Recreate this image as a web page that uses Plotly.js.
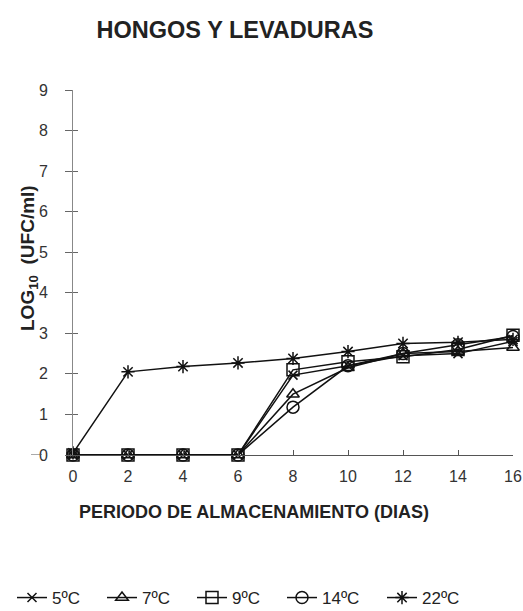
<!DOCTYPE html>
<html>
<head>
<meta charset="utf-8">
<script src="https://cdn.plot.ly/plotly-3.0.1.min.js"></script>
<style>body{margin:0;background:#fff}#chart{width:523px;height:611px}</style>
</head>
<body>
<div id="chart"></div>
<script>
const days = [0, 2, 4, 6, 8, 10, 12, 14, 16];
const seriesNames = ["5ºC", "7ºC", "9ºC", "14ºC", "22ºC"];
const t5 = [0, 0, 0, 0, 1.97, 2.2, 2.45, 2.5, 2.8];
const t7 = [0, 0, 0, 0, 1.5, 2.15, 2.5, 2.55, 2.65];
const t9 = [0, 0, 0, 0, 2.1, 2.3, 2.42, 2.6, 2.95];
const t14 = [0, 0, 0, 0, 1.18, 2.2, 2.5, 2.72, 2.92];
const t22 = [0.05, 2.05, 2.18, 2.27, 2.38, 2.55, 2.75, 2.78, 2.85];
const yTicks = [0, 1, 2, 3, 4, 5, 6, 7, 8, 9];
const xTicks = [0, 2, 4, 6, 8, 10, 12, 14, 16];

const values = [t5, t7, t9, t14, t22];
const symbols = ["x-thin-open", "triangle-up-open", "square-open", "circle-open", "asterisk-open"];
const sizes = [9, 11, 12, 12, 11];
const legendIds = ["legend", "legend2", "legend3", "legend4", "legend5"];
const legendX = [12, 102, 192, 282, 382];

const traces = values.map((v, i) => ({
  x: days, y: v, name: seriesNames[i], type: "scatter", mode: "lines+markers",
  legend: legendIds[i],
  line: {color: "#111", width: 1.5},
  marker: {symbol: symbols[i], size: sizes[i], color: "#111", line: {color: "#111", width: 1.5}},
  cliponaxis: false
}));

const font = "Liberation Sans, Arial, sans-serif";
const layout = {
  width: 523, height: 611,
  margin: {l: 73, r: 10, t: 90, b: 156, autoexpand: false},
  paper_bgcolor: "#fff", plot_bgcolor: "#fff",
  font: {family: font, color: "#222"},
  showlegend: true,
  title: {text: "<b>HONGOS Y LEVADURAS</b>", x: 235/523, xanchor: "center", xref: "container",
    y: 1 - 30/611, yanchor: "middle", font: {family: font, size: 23.5, color: "#222"}},
  xaxis: {range: [0, 16], tickvals: xTicks, ticktext: xTicks.map(String), automargin: false,
    showgrid: false, zeroline: false, showline: true, linecolor: "#555", linewidth: 1,
    ticks: "inside", ticklen: 5, tickcolor: "#555", tickfont: {size: 16, color: "#333"},
    ticklabelstandoff: 7, fixedrange: true},
  yaxis: {range: [0, 9], tickvals: yTicks, ticktext: yTicks.map(String), automargin: false,
    showgrid: false, zeroline: false, showline: true, linecolor: "#888", linewidth: 1,
    ticks: "outside", ticklen: 7, tickcolor: "#666", tickfont: {size: 16, color: "#333"},
    ticklabelstandoff: 14, fixedrange: true},
  yaxis2: {range: [0, 9], overlaying: "y", tickvals: yTicks, showticklabels: false, automargin: false,
    showgrid: false, zeroline: false, showline: false, ticks: "inside", ticklen: 5, tickcolor: "#666"},
  annotations: [
    {text: "<b>PERIODO DE ALMACENAMIENTO (DIAS)</b>", xref: "paper", yref: "paper",
      x: (254 - 73)/440, y: (455 - 512)/365, xanchor: "center", yanchor: "middle",
      showarrow: false, font: {family: font, size: 18, color: "#222"}},
    {text: "<b>LOG<sub>10</sub>  (UFC/ml)</b>", xref: "paper", yref: "paper",
      x: (29 - 73)/440, y: (455 - 258)/365, xanchor: "center", yanchor: "middle",
      textangle: -90, showarrow: false, font: {family: font, size: 19, color: "#222"}}
  ],
  shapes: [
    {type: "line", xref: "paper", yref: "y", x0: (31 - 73)/440, x1: (42 - 73)/440, y0: 0, y1: 0,
      line: {color: "#555", width: 1}}
  ]
};
legendIds.forEach((id, i) => {
  layout[id] = {orientation: "h", xref: "container", yref: "container",
    x: legendX[i] / 523, xanchor: "left", y: 1 - 598/611, yanchor: "middle",
    font: {family: font, size: 17, color: "#222"}, itemwidth: 30,
    bgcolor: "rgba(0,0,0,0)"};
});
traces.push({x: [0], y: [0], yaxis: "y2", showlegend: false, mode: "markers",
  marker: {opacity: 0}, hoverinfo: "skip"});
Plotly.newPlot("chart", traces, layout, {displayModeBar: false, staticPlot: true});
</script>
</body>
</html>
